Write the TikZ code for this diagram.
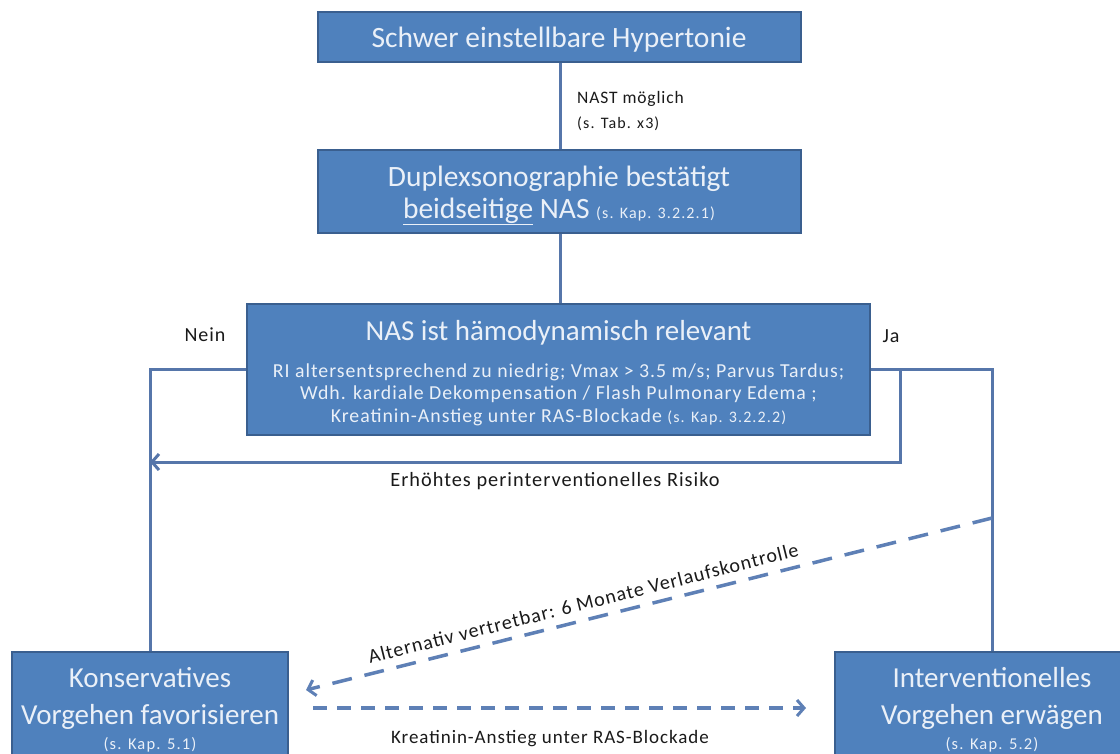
\documentclass[tikz,border=0pt]{standalone}
\usepackage{fontspec}
\setmainfont{Carlito}
\newfontfamily\smallfam{Carlito}[LetterSpace=5]
\newfontfamily\reffam{Carlito}[LetterSpace=7]
\usetikzlibrary{arrows.meta,calc}
\definecolor{boxfill}{HTML}{4F81BD}
\definecolor{boxline}{HTML}{3A5F8F}
\definecolor{conn}{HTML}{5676AA}
\definecolor{dash}{HTML}{5E80B6}
\definecolor{boxtext}{HTML}{EAF0F8}
\definecolor{lbl}{HTML}{1A1A1A}
\newcommand{\fs}[1]{\fontsize{#1}{#1}\selectfont}
\tikzset{
  bluebox/.style={draw=boxline, line width=2pt, fill=boxfill, inner sep=0pt},
  boxtxt/.style={text=boxtext, inner sep=0pt, anchor=base},
  conline/.style={draw=conn, line width=3pt},
  dashline/.style={draw=dash, line width=3.5pt, dash pattern=on 14pt off 10pt},
  lbltext/.style={text=lbl, inner sep=0pt, anchor=base},
  tip/.style={-{Straight Barb[length=7pt,width=16pt,line width=3pt]}}
}
\begin{document}
\begin{tikzpicture}[x=1pt,y=-1pt]
\useasboundingbox (0,0) rectangle (1120,753);
\clip (0,0) rectangle (1120,753);
\fill[white] (0,0) rectangle (1120,753);

% boxes
\node[bluebox, minimum width=483pt, minimum height=50pt] (top) at (559,37) {};
\node[bluebox, minimum width=483pt, minimum height=83pt] (dup) at (559,191.5) {};
\node[bluebox, minimum width=623pt, minimum height=131pt] (nas) at (558.5,369.5) {};
\node[bluebox, minimum width=276pt, minimum height=126pt] (kons) at (150,715) {};
\node[bluebox, minimum width=314pt, minimum height=126pt] (interv) at (992,715) {};

% box texts
\node[boxtxt] (top-t) at (559,47) {\fs{29.5}Schwer einstellbare Hypertonie};
\node[boxtxt] (dup-t1) at (559,186) {\fs{29.5}Duplexsonographie bestätigt};
\node[boxtxt] (dup-t2) at (559,218) {\fs{29.5}\underline{beidseitige} NAS {\reffam\fs{16}(s. Kap. 3.2.2.1)}};
\node[boxtxt] (nas-t0) at (558.5,340) {\fs{29}NAS ist hämodynamisch relevant};
\node[boxtxt] (nas-t1) at (558.5,377) {\smallfam\fs{19.8}RI altersentsprechend zu niedrig; Vmax > 3.5 m/s; Parvus Tardus;};
\node[boxtxt] (nas-t2) at (558.5,399.5) {\smallfam\fs{19.8}Wdh. kardiale Dekompensation / Flash Pulmonary Edema ;};
\node[boxtxt] (nas-t3) at (558.5,422) {\smallfam\fs{19.8}Kreatinin-Anstieg unter RAS-Blockade {\reffam\fs{16}(s. Kap. 3.2.2.2)}};
\node[boxtxt] (kons-t1) at (150,687) {\fs{29}Konservatives};
\node[boxtxt] (kons-t2) at (150,724) {\fs{29}Vorgehen favorisieren};
\node[boxtxt] (kons-t3) at (150,749) {\reffam\fs{16.5}(s. Kap. 5.1)};
\node[boxtxt] (interv-t1) at (992,687) {\fs{29}Interventionelles};
\node[boxtxt] (interv-t2) at (992,724) {\fs{29}Vorgehen erwägen};
\node[boxtxt] (interv-t3) at (992,749) {\reffam\fs{16.5}(s. Kap. 5.2)};

% solid connectors
\draw[conline] (top.south -| 560,0) -- (dup.north -| 560,0);
\draw[conline] (dup.south -| 560,0) -- (nas.north -| 560,0);
\draw[conline] (nas.west) -| (kons.north);
\draw[conline] (nas.east) -| (interv.north);
\coordinate (jb) at (900,369.5);
\coordinate (rk) at (900,462);
\draw[conline, tip] (jb) -- (rk) -- (rk -| kons.north);

% dashed connectors
\coordinate (ds) at (992,518);
\coordinate (de) at (306,690);
\draw[dashline, dash pattern=on 20pt off 13pt, tip] (ds) -- (de)
  node[pos=0.59, sloped, above=8pt, text=lbl, inner sep=0pt] (alt) {\smallfam\fs{20}Alternativ vertretbar: 6 Monate Verlaufskontrolle};
\coordinate (ks) at (313,708);
\coordinate (ie) at (806,708);
\draw[dashline, tip] (ks) -- (ie);

% labels
\node[lbltext, anchor=base west] (nast) at (577,103) {\smallfam\fs{17.5}NAST möglich};
\node[lbltext, anchor=base west] (tab) at (577,128) {\reffam\fs{16}(s. Tab. x3)};
\node[lbltext] (nein) at (205,341) {\smallfam\fs{20}Nein};
\node[lbltext] (ja) at (891,342) {\smallfam\fs{20}Ja};
\node[lbltext] (risk) at (555,486) {\smallfam\fs{20.3}Erhöhtes perinterventionelles Risiko};
\node[lbltext] (krea) at (550,743) {\smallfam\fs{19}Kreatinin-Anstieg unter RAS-Blockade};
\end{tikzpicture}
\end{document}
